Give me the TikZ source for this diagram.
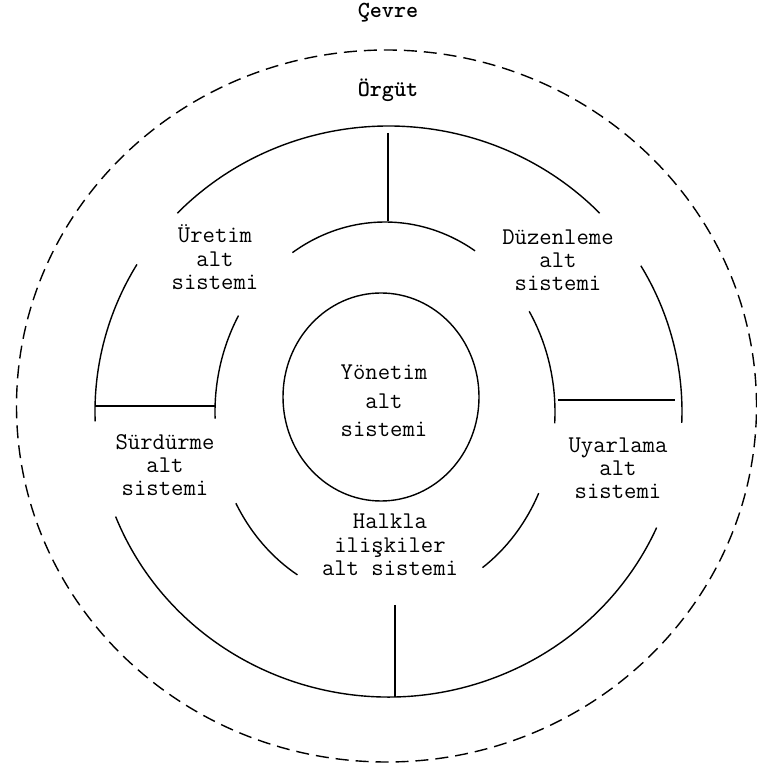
\documentclass[tikz,border=0pt]{standalone}
\usepackage{fontspec}
\usetikzlibrary{shapes.geometric}
\begin{document}
\begin{tikzpicture}[x=1pt,y=1pt,
  ring/.style={line width=1.4pt},
  envline/.style={line width=1.4pt, dash pattern=on 13pt off 7pt},
  lbl/.style={font=\ttfamily\fontsize{24}{28}\selectfont, anchor=base, inner sep=0pt},
  ttl/.style={font=\ttfamily\fontseries{b}\selectfont\fontsize{23}{27}\selectfont, anchor=base, inner sep=0pt}]
\useasboundingbox (0,0) rectangle (757,766);
% environment (dashed)
\coordinate (E) at (386.5,360);
\draw[envline] (E) ellipse [x radius=370, y radius=356];
% organisation outer ring
\coordinate (O) at (388.5,354.5);
\draw[ring] (O) ++(44:293.5 and 285.5) arc[start angle=44, end angle=136, x radius=293.5, y radius=285.5];
\draw[ring] (O) ++(149:293.5 and 285.5) arc[start angle=149, end angle=182, x radius=293.5, y radius=285.5];
\draw[ring] (O) ++(201.6:293.5 and 285.5) arc[start angle=201.6, end angle=336, x radius=293.5, y radius=285.5];
\draw[ring] (O) ++(-2.3:293.5 and 285.5) arc[start angle=-2.3, end angle=30.7, x radius=293.5, y radius=285.5];
% middle ring
\coordinate (M) at (385,354);
\draw[ring] (M) ++(58:170 and 190) arc[start angle=58, end angle=123, x radius=170, y radius=190];
\draw[ring] (M) ++(149.5:170 and 190) arc[start angle=149.5, end angle=182, x radius=170, y radius=190];
\draw[ring] (M) ++(208.7:170 and 190) arc[start angle=208.7, end angle=239, x radius=170, y radius=190];
\draw[ring] (M) ++(305:170 and 190) arc[start angle=305, end angle=334.7, x radius=170, y radius=190];
\draw[ring] (M) ++(-3.4:170 and 190) arc[start angle=-3.4, end angle=32, x radius=170, y radius=190];
% separators
\coordinate (t1) at (388,633); \coordinate (t2) at (388,545);
\coordinate (b1) at (395,161); \coordinate (b2) at (395,69);
\coordinate (l1) at (95,360);  \coordinate (l2) at (216,360);
\coordinate (r1) at (558,366); \coordinate (r2) at (675,366);
\draw[ring] (t1) -- (t2);
\draw[ring] (b1) -- (b2);
\draw[ring] (l1) -- (l2);
\draw[ring] (r1) -- (r2);
% management subsystem
\node[ring, draw, ellipse, minimum width=196pt, minimum height=208pt, inner sep=0pt] (yon) at (381,369) {};
\node[lbl] (y1) at (384,386) {Yönetim};
\node[lbl] (y2) at (384,357) {alt};
\node[lbl] (y3) at (384,329) {sistemi};
% titles
\node[ttl] (cevre) at (388,748) {Çevre};
\node[ttl] (orgut) at (388,669) {Örgüt};
% subsystem labels
\node[lbl] (u1) at (215,523) {Üretim};
\node[lbl] (u2) at (215,499) {alt};
\node[lbl] (u3) at (215,476) {sistemi};
\node[lbl] (d1) at (558,521) {Düzenleme};
\node[lbl] (d2) at (558,498) {alt};
\node[lbl] (d3) at (558,475) {sistemi};
\node[lbl] (s1) at (165,316) {Sürdürme};
\node[lbl] (s2) at (165,293) {alt};
\node[lbl] (s3) at (165,270) {sistemi};
\node[lbl] (a1) at (618,313) {Uyarlama};
\node[lbl] (a2) at (618,290) {alt};
\node[lbl] (a3) at (618,267) {sistemi};
\node[lbl] (h1) at (390,237) {Halkla};
\node[lbl] (h2) at (390,213) {ilişkiler};
\node[lbl] (h3) at (390,190) {alt sistemi};
\end{tikzpicture}
\end{document}
